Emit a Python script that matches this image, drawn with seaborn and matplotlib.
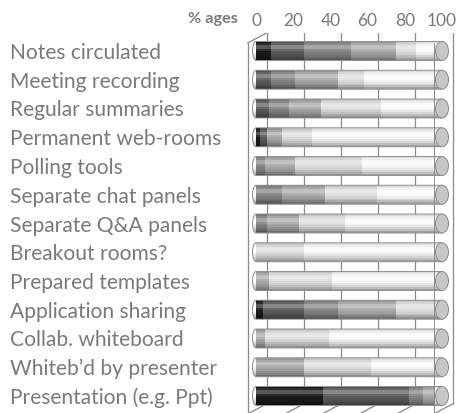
import numpy as np
import matplotlib
matplotlib.use("Agg")
import matplotlib.pyplot as plt
import seaborn as sns
from matplotlib.patches import Ellipse, PathPatch, Rectangle
from matplotlib.path import Path

# Survey features (top to bottom) and the share of answers in each rating band (%)
features = [
    "Notes circulated", "Meeting recording", "Regular summaries",
    "Permanent web-rooms", "Polling tools", "Separate chat panels",
    "Separate Q&A panels", "Breakout rooms?", "Prepared templates",
    "Application sharing", "Collab. whiteboard", "Whiteb\u2019d by presenter",
    "Presentation (e.g. Ppt)",
]
band_1 = [8, 0, 0, 2, 0, 0, 0, 0, 0, 4, 0, 0, 36]
band_2 = [18, 8, 7, 4, 0, 0, 0, 0, 0, 22, 0, 0, 46]
band_3 = [25, 13, 11, 0, 5, 14, 6, 0, 0, 18, 0, 0, 8]
band_4 = [24, 23, 17, 8, 16, 23, 17, 0, 7, 31, 5, 26, 6]
band_5 = [11, 14, 32, 16, 36, 28, 25, 26, 34, 25, 34, 36, 0]
band_6 = [14, 42, 33, 70, 43, 35, 52, 74, 59, 0, 61, 38, 4]
tick_values = [0, 20, 40, 60, 80, 100]

shades = ["#1a1a1a", "#5c5c5c", "#868686", "#ababab", "#e1e1e1", "#fbfbfb"]
text_grey = "#7a7a7a"
line_grey = "#8a8a8a"

sns.set_theme(style="white")
plt.rcParams["font.family"] = ["Lato", "DejaVu Sans"]

W, H, DPI = 465, 413, 100
fig = plt.figure(figsize=(W / DPI, H / DPI), dpi=DPI)

# plot box in pixels
x0_px, x100_px = 256.0, 442.0
ppu = (x100_px - x0_px) / 100.0
ax_left_px, ax_right_px = 246.0, 458.0
top_px, row0_px, row_step = 33.0, 51.0, 28.75
xmin = -(x0_px - ax_left_px) / ppu
xmax = 100 + (ax_right_px - x100_px) / ppu
y_top_val = -(row0_px - top_px) / row_step
y_bot_val = (H - row0_px) / row_step

ax = fig.add_axes([ax_left_px / W, 0, (ax_right_px - ax_left_px) / W, (H - top_px) / H])
ax.set_xlim(xmin, xmax)
ax.set_ylim(y_bot_val, y_top_val)


def xshift(v, dx_px):
    """x value moved sideways by a number of pixels"""
    return v + dx_px / ppu


def yrow(p_px):
    """y value of a pixel row counted from the top of the figure"""
    return y_top_val + (p_px - top_px) / row_step


# walls and floor of the 3-D box
ax_h_px = H - top_px
back_dx, front_dx = 10.5, -8.5
floor_back = 9.0 / ax_h_px
front_top = 1 - 10.0 / ax_h_px
line_kw = dict(color=line_grey, lw=0.9)

for v in tick_values:
    ax.axvline(xshift(v, back_dx), ymin=floor_back, ymax=1, zorder=0.5, **line_kw)
    ax.plot([xshift(v, back_dx), xshift(v, front_dx)], [yrow(H - 9), yrow(H + 1)],
            zorder=0.5, **line_kw)
ax.axvline(xshift(0, front_dx), ymin=0, ymax=front_top, zorder=0.5, **line_kw)
ax.plot([xshift(0, front_dx), xshift(0, back_dx)], [yrow(43), yrow(33)],
        zorder=0.5, **line_kw)

# stacked bars: draw the running totals from the widest down
bands = np.array([band_1, band_2, band_3, band_4, band_5, band_6], dtype=float)
running = np.cumsum(bands, axis=0)
bar_w = 0.66
for k in range(len(bands) - 1, -1, -1):
    sns.barplot(x=running[k], y=features, orient="h", color=shades[k],
                saturation=1, width=bar_w, linewidth=0, errorbar=None,
                ax=ax, zorder=2)

ax.set_xlim(xmin, xmax)
ax.set_ylim(y_bot_val, y_top_val)

# cylinder outlines: rounded left end, flat body to 100
half_h = bar_w / 2
rx_left = 3.5 / ppu
rx_cap = 6.5 / ppu
kk = 0.5523


def body_path(row):
    top, bot = row - half_h, row + half_h
    verts = [(0, top), (100, top), (100, bot), (0, bot),
             (-kk * rx_left, bot), (-rx_left, row + kk * half_h), (-rx_left, row),
             (-rx_left, row - kk * half_h), (-kk * rx_left, top), (0, top),
             (0, top)]
    codes = [Path.MOVETO, Path.LINETO, Path.LINETO, Path.LINETO,
             Path.CURVE4, Path.CURVE4, Path.CURVE4,
             Path.CURVE4, Path.CURVE4, Path.CURVE4, Path.CLOSEPOLY]
    return Path(verts, codes)


clips = [PathPatch(body_path(i), transform=ax.transData, facecolor="none")
         for i in range(len(features))]

for p in ax.patches:
    row = int(round(p.get_y() + p.get_height() / 2))
    p.set_clip_path(clips[row])

# shading across each cylinder: thin translucent strips, dark at the rims,
# a soft highlight just above the middle
n_strips = 10
strip_h = bar_w / n_strips
centres = (np.arange(n_strips) + 0.5) / n_strips
dark_alpha = 0.42 * (np.abs(centres - 0.38) / 0.62) ** 2.0
light_alpha = 0.32 * np.exp(-((centres - 0.3) / 0.13) ** 2)

for i in range(len(features)):
    top = i - half_h
    for s in range(n_strips):
        y0 = top + s * strip_h
        for colour, a, z in (("black", dark_alpha[s], 3), ("white", light_alpha[s], 3.1)):
            r = Rectangle((-rx_left, y0), 100 + rx_left, strip_h, facecolor=colour,
                          alpha=a, linewidth=0, antialiased=False, zorder=z)
            ax.add_patch(r)
            r.set_clip_path(clips[i])
    ax.add_patch(PathPatch(body_path(i), facecolor="none", edgecolor="#909090",
                           lw=0.7, zorder=4))
    ax.add_patch(Ellipse((100, i), width=2 * rx_cap, height=2 * half_h,
                         facecolor="#c6c6c6", edgecolor="#8c8c8c", lw=0.7, zorder=5))

# front right edge of the box passes in front of the cylinders
ax.axvline(xshift(100, front_dx), ymin=0, ymax=front_top, zorder=6,
           color=line_grey, lw=0.7)

ax.set_xlim(xmin, xmax)
ax.set_ylim(y_bot_val, y_top_val)

# axes text
ax.xaxis.tick_top()
ax.set_xticks(tick_values)
ax.set_xticklabels([str(v) for v in tick_values], fontsize=13, color=text_grey)
ax.tick_params(axis="x", length=0, pad=3)
ax.set_yticks(range(len(features)))
ax.set_yticklabels(features, fontsize=15, color=text_grey)
ax.tick_params(axis="y", length=0, pad=(ax_left_px - 10) * 72 / DPI)
for lab in ax.get_yticklabels():
    lab.set_ha("left")
ax.set_xlabel("")
ax.set_ylabel("")
for s in ax.spines.values():
    s.set_visible(False)

unit_lab = fig.text(238 / W, 1 - 19 / H, "% ages", ha="right", va="center",
                    fontsize=10.5, fontweight="bold", color=text_grey)

# size the text so its printed widths match the layout
renderer = fig.canvas.get_renderer()


def fit(artists, target_px):
    widest = max(a.get_window_extent(renderer).width for a in artists)
    for a in artists:
        a.set_fontsize(a.get_fontsize() * target_px / widest)


fit(ax.get_yticklabels(), 212)
fit([ax.get_xticklabels()[-1]], 30)
for lab in ax.get_xticklabels():
    lab.set_fontsize(ax.get_xticklabels()[-1].get_fontsize())
fit([unit_lab], 50)

fig.savefig("out.png", dpi=DPI)
